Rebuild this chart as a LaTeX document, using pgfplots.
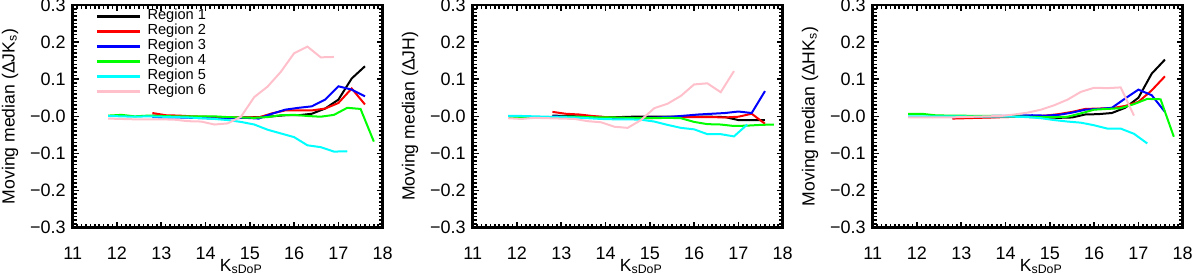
\documentclass[border=0pt]{standalone}
\usepackage{fontspec}
\setmainfont{Liberation Sans}
\usepackage{pgfplots}
\pgfplotsset{compat=1.18}

\definecolor{rpink}{RGB}{255,192,203}
\definecolor{rcyan}{RGB}{0,255,255}
\definecolor{rgreen}{RGB}{0,255,0}

\pgfplotsset{
  panel/.style={
    width=155pt, height=111.35pt, scale only axis,
    anchor=south west,
    xmin=11, xmax=18, ymin=-0.3, ymax=0.3,
    xtick={11,12,13,14,15,16,17,18},
    xticklabels={11,12,13,14,15,16,17,18},
    ytick={-0.3,-0.2,-0.1,0,0.1,0.2,0.3},
    yticklabels={−0.3,−0.2,−0.1,−0.0,0.1,0.2,0.3},
    minor x tick num=9, minor y tick num=9,
    tick align=inside,
    major tick length=3pt, minor tick length=2pt,
    every tick/.style={black, line width=0.8pt},
    axis line style={line width=1.4pt},
    tick label style={font=\fontsize{9}{10}\selectfont},
    xticklabel style={yshift=-6pt},
    label style={font=\fontsize{8.8}{10}\selectfont},
    xlabel={K\textsubscript{sDoP}},
    xlabel style={at={(axis description cs:0.452,0)}, anchor=base west, yshift=-22pt},
    ylabel style={at={(axis description cs:-0.2023,0.5)}, anchor=center},
    every axis plot/.append style={line width=1pt, mark=none},
  }
}

\begin{document}
\begin{tikzpicture}
\useasboundingbox (-36.35pt,-25.15pt) rectangle (563.65pt,113.85pt);

% panel 1: Delta J-Ks
\begin{axis}[panel, at={(0pt,0pt)},
  ylabel={Moving median (ΔJK\textsubscript{s})},
  legend style={at={(axis description cs:0.075,0.984)}, anchor=north west,
    draw=none, fill=none, inner sep=0pt, row sep=0pt,
    font=\fontsize{7.3}{7.5}\selectfont,
    nodes={inner sep=0pt, text height=5.5pt, text depth=2pt},
    /tikz/every odd column/.style={column sep=3pt}},
  legend image code/.code={\draw[#1, line width=1.1pt] (0pt,0pt) -- (21.5pt,0pt);},
]
\addplot[black] coordinates {(12.8,0.002)(13.1,0.001)(13.4,0.0)(13.7,-0.002)(14.0,-0.003)(14.3,-0.004)(14.6,-0.004)(14.9,-0.003)(15.2,-0.002)(15.5,0.0)(15.8,0.003)(16.1,0.003)(16.4,0.007)(16.7,0.021)(17.0,0.045)(17.3,0.102)(17.6,0.135)};
\addlegendentry{Region 1}
\addplot[red] coordinates {(12.8,0.009)(13.1,0.003)(13.4,0.002)(13.7,0.0)(14.0,-0.001)(14.3,-0.002)(14.6,-0.003)(14.9,-0.003)(15.2,-0.003)(15.5,0.008)(15.8,0.016)(16.1,0.016)(16.4,0.016)(16.7,0.021)(17.0,0.036)(17.3,0.075)(17.6,0.032)};
\addlegendentry{Region 2}
\addplot[blue] coordinates {(12.8,-0.002)(13.1,-0.003)(13.4,-0.003)(13.7,-0.004)(14.0,-0.005)(14.3,-0.006)(14.6,-0.005)(14.9,-0.004)(15.2,-0.006)(15.5,0.007)(15.8,0.018)(16.1,0.023)(16.4,0.027)(16.7,0.045)(17.0,0.081)(17.3,0.072)(17.6,0.054)};
\addlegendentry{Region 3}
\addplot[rgreen] coordinates {(11.8,0.002)(12.1,0.004)(12.4,0.0)(12.7,0.002)(13.0,0.001)(13.3,0.0)(13.6,0.0)(13.9,0.0)(14.2,0.0)(14.5,-0.002)(14.8,-0.003)(15.1,-0.004)(15.4,-0.002)(15.7,0.003)(16.0,0.004)(16.3,0.001)(16.6,-0.001)(16.9,0.004)(17.2,0.023)(17.5,0.02)(17.8,-0.068)};
\addlegendentry{Region 4}
\addplot[rcyan] coordinates {(11.8,0.001)(12.1,0.0)(12.4,-0.001)(12.7,0.0)(13.0,-0.001)(13.3,-0.002)(13.6,-0.003)(13.9,-0.005)(14.2,-0.007)(14.5,-0.01)(14.8,-0.015)(15.1,-0.022)(15.4,-0.036)(15.7,-0.046)(16.0,-0.056)(16.3,-0.078)(16.6,-0.083)(16.9,-0.095)(17.2,-0.094)};
\addlegendentry{Region 5}
\addplot[rpink] coordinates {(11.8,-0.006)(12.1,-0.007)(12.4,-0.008)(12.7,-0.008)(13.0,-0.008)(13.3,-0.009)(13.6,-0.013)(13.9,-0.014)(14.2,-0.022)(14.5,-0.019)(14.8,-0.001)(15.1,0.052)(15.4,0.08)(15.7,0.12)(16.0,0.17)(16.3,0.188)(16.6,0.159)(16.9,0.16)};
\addlegendentry{Region 6}
\end{axis}

% panel 2: Delta J-H
\begin{axis}[panel, at={(200pt,0pt)}, ylabel={Moving median (ΔJH)}]
\addplot[black] coordinates {(12.8,0.002)(13.1,0.001)(13.4,0.0)(13.7,-0.001)(14.0,-0.002)(14.3,-0.002)(14.6,-0.001)(14.9,-0.001)(15.2,-0.001)(15.5,-0.001)(15.8,-0.001)(16.1,-0.001)(16.4,-0.001)(16.7,-0.002)(17.0,-0.01)(17.3,-0.01)(17.6,-0.01)};
\addplot[red] coordinates {(12.8,0.012)(13.1,0.007)(13.4,0.005)(13.7,0.001)(14.0,-0.002)(14.3,-0.004)(14.6,-0.005)(14.9,-0.005)(15.2,-0.004)(15.5,-0.003)(15.8,-0.002)(16.1,-0.002)(16.4,-0.002)(16.7,-0.003)(17.0,-0.001)(17.3,0.007)(17.6,-0.02)};
\addplot[blue] coordinates {(12.8,0.0)(13.1,-0.001)(13.4,-0.002)(13.7,-0.004)(14.0,-0.005)(14.3,-0.006)(14.6,-0.006)(14.9,-0.004)(15.2,-0.003)(15.5,-0.001)(15.8,0.002)(16.1,0.005)(16.4,0.007)(16.7,0.009)(17.0,0.013)(17.3,0.009)(17.6,0.068)};
\addplot[rgreen] coordinates {(11.8,-0.003)(12.1,-0.005)(12.4,-0.002)(12.7,-0.002)(13.0,-0.001)(13.3,-0.001)(13.6,-0.002)(13.9,-0.003)(14.2,-0.003)(14.5,-0.004)(14.8,-0.005)(15.1,-0.005)(15.4,-0.004)(15.7,-0.005)(16.0,-0.015)(16.3,-0.021)(16.6,-0.022)(16.9,-0.026)(17.2,-0.025)(17.5,-0.023)(17.8,-0.022)};
\addplot[rcyan] coordinates {(11.8,0.001)(12.1,0.001)(12.4,0.0)(12.7,-0.001)(13.0,-0.002)(13.3,-0.003)(13.6,-0.005)(13.9,-0.007)(14.2,-0.008)(14.5,-0.008)(14.8,-0.009)(15.1,-0.014)(15.4,-0.023)(15.7,-0.031)(16.0,-0.035)(16.3,-0.048)(16.6,-0.048)(16.9,-0.054)(17.2,-0.022)};
\addplot[rpink] coordinates {(11.8,-0.005)(12.1,-0.007)(12.4,-0.004)(12.7,-0.005)(13.0,-0.006)(13.3,-0.007)(13.6,-0.013)(13.9,-0.016)(14.2,-0.028)(14.5,-0.031)(14.8,-0.01)(15.1,0.022)(15.4,0.034)(15.7,0.055)(16.0,0.086)(16.3,0.089)(16.6,0.065)(16.9,0.122)};
\end{axis}

% panel 3: Delta H-Ks
\begin{axis}[panel, at={(400pt,0pt)}, ylabel={Moving median (ΔHK\textsubscript{s})}]
\addplot[black] coordinates {(12.8,-0.003)(13.1,-0.003)(13.4,-0.002)(13.7,-0.002)(14.0,-0.001)(14.3,-0.001)(14.6,-0.002)(14.9,-0.003)(15.2,-0.004)(15.5,-0.003)(15.8,0.005)(16.1,0.006)(16.4,0.009)(16.7,0.023)(17.0,0.05)(17.3,0.115)(17.6,0.153)};
\addplot[red] coordinates {(12.8,-0.006)(13.1,-0.005)(13.4,-0.004)(13.7,-0.003)(14.0,-0.002)(14.3,-0.001)(14.6,0.0)(14.9,0.002)(15.2,0.006)(15.5,0.012)(15.8,0.02)(16.1,0.021)(16.4,0.022)(16.7,0.028)(17.0,0.039)(17.3,0.07)(17.6,0.108)};
\addplot[blue] coordinates {(12.8,-0.002)(13.1,-0.001)(13.4,0.0)(13.7,0.001)(14.0,0.001)(14.3,0.002)(14.6,0.003)(14.9,0.002)(15.2,0.004)(15.5,0.01)(15.8,0.018)(16.1,0.02)(16.4,0.023)(16.7,0.048)(17.0,0.072)(17.3,0.057)(17.6,0.012)};
\addplot[rgreen] coordinates {(11.8,0.007)(12.1,0.007)(12.4,0.003)(12.7,0.002)(13.0,0.002)(13.3,0.001)(13.6,0.001)(13.9,0.001)(14.2,0.0)(14.5,-0.001)(14.8,-0.002)(15.1,-0.002)(15.4,-0.001)(15.7,0.008)(16.0,0.018)(16.3,0.02)(16.6,0.022)(16.9,0.033)(17.2,0.047)(17.5,0.046)(17.8,-0.055)};
\addplot[rcyan] coordinates {(11.8,0.0)(12.1,0.0)(12.4,0.0)(12.7,0.0)(13.0,0.0)(13.3,-0.001)(13.6,-0.001)(13.9,-0.001)(14.2,-0.001)(14.5,-0.002)(14.8,-0.005)(15.1,-0.01)(15.4,-0.014)(15.7,-0.017)(16.0,-0.024)(16.3,-0.033)(16.6,-0.033)(16.9,-0.047)(17.2,-0.073)};
\addplot[rpink] coordinates {(11.8,-0.003)(12.1,-0.003)(12.4,-0.003)(12.7,-0.003)(13.0,-0.002)(13.3,-0.001)(13.6,0.0)(13.9,0.001)(14.2,0.005)(14.5,0.01)(14.8,0.018)(15.1,0.03)(15.4,0.045)(15.7,0.066)(16.0,0.077)(16.3,0.076)(16.6,0.078)(16.9,0.002)};
\end{axis}
\end{tikzpicture}
\end{document}
